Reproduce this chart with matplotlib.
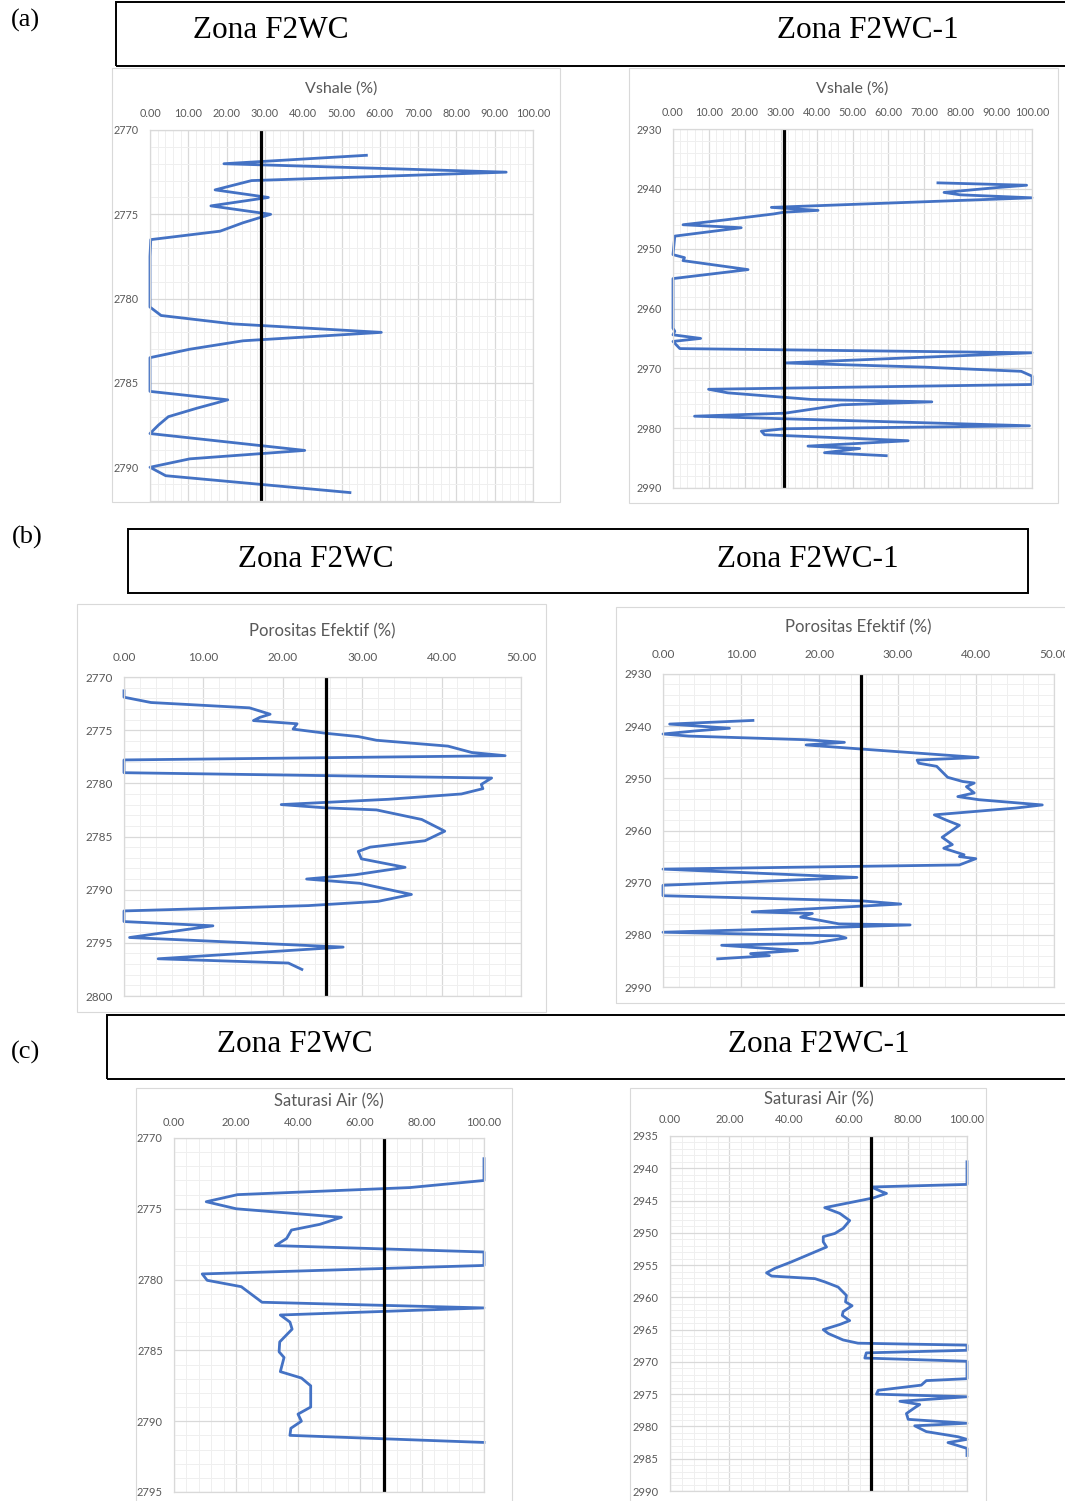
import matplotlib
matplotlib.use("Agg")
import matplotlib.pyplot as plt
from matplotlib.patches import Rectangle
from matplotlib.ticker import MultipleLocator, FormatStrFormatter

W, H = 1065, 1501

# --- Vshale, zona F2WC ---
vsh_f2wc_depth = [2771.5, 2772.0, 2772.5, 2773.0, 2773.55, 2774.0, 2774.5, 2775.0,
                  2775.5, 2776.0, 2776.5, 2777.5, 2778.5, 2779.5, 2780.5, 2781.0,
                  2781.5, 2782.0, 2782.5, 2783.0, 2783.5, 2784.5, 2785.5, 2786.0,
                  2786.5, 2787.0, 2787.5, 2788.0, 2789.0, 2789.5, 2790.0, 2790.5, 2791.5]
vsh_f2wc = [56.5, 19.3, 93.0, 26.5, 17.0, 30.9, 15.9, 31.5,
            24.3, 18.3, 0.2, 0.0, 0.0, 0.0, 0.0, 2.9,
            21.7, 60.4, 24.3, 10.4, 0.0, 0.0, 0.0, 20.3,
            12.2, 4.8, 2.2, 0.0, 40.4, 10.4, 0.0, 4.1, 52.2]

# --- Vshale, zona F2WC-1 ---
vsh_f2wc1_depth = [2939.0, 2939.4, 2939.8, 2940.6, 2941.0, 2941.5, 2943.1, 2943.6,
                   2943.9, 2944.2, 2945.2, 2946.0, 2946.5, 2947.9, 2951.0, 2951.5,
                   2952.0, 2953.5, 2955.0, 2963.3, 2963.8, 2964.4, 2965.0, 2965.5,
                   2966.7, 2967.4, 2969.1, 2969.8, 2970.5, 2971.3, 2972.7, 2973.5,
                   2974.1, 2975.2, 2975.6, 2976.1, 2977.5, 2978.0, 2979.6, 2980.1,
                   2980.5, 2981.1, 2981.7, 2982.1, 2983.0, 2983.4, 2984.1, 2984.6]
vsh_f2wc1 = [73.8, 98.5, 90.0, 75.5, 80.0, 100.0, 27.4, 40.4,
             31.0, 28.0, 14.4, 2.8, 19.0, 0.5, 0.0, 3.2,
             2.8, 20.9, 0.0, 0.0, 0.5, 0.0, 7.7, 0.0,
             1.9, 100.0, 31.1, 70.0, 97.0, 100.0, 100.0, 9.9,
             15.3, 38.5, 72.1, 46.9, 31.1, 6.0, 99.3, 31.0,
             24.6, 25.5, 50.0, 65.5, 37.6, 52.0, 42.2, 59.4]

# --- Porositas efektif, zona F2WC ---
phi_f2wc_depth = [2771.3, 2771.9, 2772.4, 2772.9, 2773.5, 2773.8, 2774.1, 2774.4,
                  2774.9, 2775.3, 2775.6, 2775.95, 2776.5, 2777.1, 2777.4, 2777.8,
                  2779.0, 2779.5, 2780.1, 2780.5, 2781.0, 2781.5, 2782.0, 2782.3,
                  2782.5, 2783.4, 2784.5, 2785.4, 2786.0, 2786.4, 2787.1, 2787.9,
                  2788.6, 2789.0, 2789.4, 2790.45, 2791.1, 2791.5, 2792.0, 2793.0,
                  2793.4, 2794.5, 2795.4, 2796.5, 2796.9, 2797.5]
phi_f2wc = [0.0, 0.0, 3.4, 15.8, 18.4, 17.1, 16.3, 21.8,
            21.3, 25.5, 29.5, 31.8, 40.8, 43.8, 48.0, 0.0,
            0.0, 46.3, 45.0, 45.2, 42.5, 33.3, 19.8, 25.3,
            31.8, 37.5, 40.4, 37.9, 31.0, 29.5, 29.9, 35.4,
            29.1, 23.0, 29.7, 36.2, 32.0, 23.2, 0.0, 0.0,
            11.2, 0.7, 27.6, 4.3, 20.7, 22.4]

# --- Porositas efektif, zona F2WC-1 ---
phi_f2wc1_depth = [2938.9, 2939.6, 2940.4, 2940.9, 2941.5, 2941.9, 2942.6, 2943.1,
                   2943.6, 2944.4, 2946.0, 2946.5, 2947.1, 2947.7, 2949.8, 2950.6,
                   2950.9, 2951.6, 2952.8, 2953.5, 2954.1, 2955.1, 2955.7, 2957.0,
                   2958.0, 2959.0, 2961.3, 2962.7, 2963.4, 2964.65, 2965.0, 2965.4,
                   2966.6, 2967.4, 2969.0, 2970.5, 2972.5, 2973.5, 2974.1, 2975.6,
                   2975.9, 2976.6, 2977.2, 2977.9, 2978.1, 2978.5, 2979.5, 2980.2,
                   2980.6, 2981.6, 2982.0, 2983.0, 2983.6, 2984.0, 2984.6]
phi_f2wc1 = [11.5, 0.85, 8.5, 4.2, 0.0, 3.3, 18.3, 23.2,
             18.3, 25.5, 40.3, 32.5, 32.7, 35.0, 36.4, 38.3,
             39.8, 38.8, 39.8, 37.7, 40.4, 48.5, 45.1, 34.7,
             36.2, 37.9, 35.7, 37.0, 35.9, 38.5, 37.9, 40.0,
             37.9, 0.0, 24.8, 0.0, 0.0, 25.5, 30.4, 11.4,
             19.1, 17.6, 20.0, 22.5, 31.6, 23.4, 0.0, 22.5,
             23.4, 19.1, 7.5, 17.2, 11.2, 13.6, 7.0]

# --- Saturasi air, zona F2WC ---
sw_f2wc_depth = [2771.46, 2773.0, 2773.5, 2774.0, 2774.5, 2775.0, 2775.6, 2776.1,
                 2776.5, 2777.1, 2777.6, 2778.05, 2779.0, 2779.6, 2780.05, 2780.5,
                 2781.6, 2782.0, 2782.5, 2783.0, 2783.5, 2784.4, 2785.1, 2785.5,
                 2786.5, 2786.95, 2787.5, 2789.0, 2789.5, 2790.0, 2790.5, 2791.0, 2791.5]
sw_f2wc = [100.0, 100.0, 76.1, 20.5, 10.4, 20.1, 54.0, 47.0,
           37.9, 36.3, 32.7, 100.0, 100.0, 9.1, 10.7, 21.7,
           28.4, 100.0, 34.3, 37.4, 38.1, 34.1, 33.9, 35.5,
           34.3, 41.1, 44.1, 44.1, 40.0, 41.1, 37.7, 37.4, 100.0]

# --- Saturasi air, zona F2WC-1 ---
sw_f2wc1_depth = [2939.0, 2942.5, 2942.9, 2943.6, 2943.9, 2944.6, 2946.1, 2947.0,
                  2948.1, 2949.3, 2950.1, 2950.6, 2951.4, 2952.2, 2954.5, 2955.5,
                  2956.2, 2956.7, 2957.1, 2957.6, 2958.4, 2959.7, 2960.7, 2961.3,
                  2962.2, 2962.8, 2963.6, 2964.2, 2965.0, 2965.6, 2966.6, 2967.1,
                  2967.4, 2968.2, 2968.6, 2969.4, 2969.9, 2972.6, 2972.9, 2973.6,
                  2974.4, 2975.0, 2975.4, 2976.1, 2976.6, 2977.1, 2978.0, 2978.9,
                  2979.5, 2979.9, 2980.8, 2981.6, 2982.0, 2982.5, 2983.4, 2984.5]
sw_f2wc1 = [100.0, 100.0, 67.8, 71.2, 72.9, 68.4, 52.1, 57.2,
            60.5, 58.3, 55.5, 51.6, 51.6, 52.7, 40.9, 35.3,
            32.5, 34.2, 48.8, 52.1, 56.6, 59.4, 59.1, 61.3,
            58.3, 58.0, 60.5, 57.2, 51.6, 53.3, 58.3, 63.3,
            100.0, 100.0, 66.1, 65.6, 100.0, 100.0, 86.3, 84.6,
            70.1, 69.5, 100.0, 77.4, 84.1, 82.4, 79.6, 80.2,
            100.0, 82.4, 86.3, 97.0, 100.0, 93.6, 100.0, 100.0]

# cutoff values (black vertical lines)
cutoff_vsh = [29.0, 31.0]
cutoff_phi = [25.4, 25.3]
cutoff_sw = [67.9, 67.8]

zone_names = ["Zona F2WC", "Zona F2WC-1"]
panel_tags = ["(a)", "(b)", "(c)"]

BLUE = "#4472C4"
GREY_TXT = "#595959"
TICK_FONT = ["Lato", "DejaVu Sans"]
SERIF = ["Liberation Serif", "DejaVu Serif"]

fig = plt.figure(figsize=(W / 100, H / 100), dpi=100)


def fx(x):
    return x / W


def fy(y):
    return 1 - y / H


def rect_px(x0, y0, x1, y1, **kw):
    r = Rectangle((fx(x0), fy(y1)), (x1 - x0) / W, (y1 - y0) / H,
                  transform=fig.transFigure, fill=False, **kw)
    fig.add_artist(r)


def log_track(box, depth, vals, cutoff, xlim, ylim, xmaj, xmin, ymaj, ymin,
              title, title_y, tick_fs, title_fs, pad_x=8, pad_y=8):
    x0, y0, x1, y1 = box
    ax = fig.add_axes([fx(x0), fy(y1), (x1 - x0) / W, (y1 - y0) / H])
    ax.set_xlim(*xlim)
    ax.set_ylim(ylim[1], ylim[0])
    ax.xaxis.set_major_locator(MultipleLocator(xmaj))
    ax.xaxis.set_minor_locator(MultipleLocator(xmin))
    ax.yaxis.set_major_locator(MultipleLocator(ymaj))
    ax.yaxis.set_minor_locator(MultipleLocator(ymin))
    ax.xaxis.set_major_formatter(FormatStrFormatter("%.2f"))
    ax.yaxis.set_major_formatter(FormatStrFormatter("%d"))
    ax.grid(which="major", color="#d9d9d9", lw=0.9)
    ax.grid(which="minor", color="#efefef", lw=0.7)
    ax.set_axisbelow(True)
    for s in ax.spines.values():
        s.set_color("#d9d9d9")
        s.set_linewidth(0.9)
    ax.tick_params(which="both", length=0, labeltop=True, labelbottom=False,
                   colors=GREY_TXT, labelsize=tick_fs)
    ax.tick_params(axis="x", pad=pad_x)
    ax.tick_params(axis="y", pad=pad_y)
    for lab in ax.get_xticklabels() + ax.get_yticklabels():
        lab.set_family(TICK_FONT)
    ax.plot(vals, depth, color=BLUE, lw=2.0, solid_joinstyle="round", clip_on=False)
    ax.plot([cutoff, cutoff], [ylim[0], ylim[1]], color="black", lw=2.3)
    fig.text(fx((x0 + x1) / 2), fy(title_y), title, ha="center", va="center",
             fontsize=title_fs, color=GREY_TXT, family=TICK_FONT)
    return ax


# chart frames
rect_px(112, 68, 560, 502, edgecolor="#d9d9d9", lw=0.8)
rect_px(629, 68, 1058, 503, edgecolor="#d9d9d9", lw=0.8)
rect_px(77, 604, 546, 1012, edgecolor="#d9d9d9", lw=0.8)
rect_px(616, 607, 1070, 1003, edgecolor="#d9d9d9", lw=0.8)
rect_px(136, 1088, 512, 1505, edgecolor="#d9d9d9", lw=0.8)
rect_px(630, 1088, 986, 1505, edgecolor="#d9d9d9", lw=0.8)

# (a) Vshale
log_track((150, 130, 533, 501), vsh_f2wc_depth, vsh_f2wc, cutoff_vsh[0],
          (0, 100), (2770, 2792), 10, 2, 5, 1, "Vshale (%)", 89, 7.8, 11.5)
log_track((673, 129, 1032, 488), vsh_f2wc1_depth, vsh_f2wc1, cutoff_vsh[1],
          (0, 100), (2930, 2990), 10, 2, 10, 2, "Vshale (%)", 89, 7.8, 11.5)

# (b) Porositas efektif
log_track((124, 677, 521, 996), phi_f2wc_depth, phi_f2wc, cutoff_phi[0],
          (0, 50), (2770, 2800), 10, 2, 5, 1, "Porositas Efektif (%)", 631, 8.5, 12,
          pad_x=10)
log_track((663, 674, 1054, 987), phi_f2wc1_depth, phi_f2wc1, cutoff_phi[1],
          (0, 50), (2930, 2990), 10, 2, 10, 2, "Porositas Efektif (%)", 627, 8.5, 12,
          pad_x=10)

# (c) Saturasi air
log_track((174, 1138, 484, 1492), sw_f2wc_depth, sw_f2wc, cutoff_sw[0],
          (0, 100), (2770, 2795), 20, 4, 5, 1, "Saturasi Air (%)", 1101, 8, 12,
          pad_x=7)
log_track((670, 1136, 967, 1491), sw_f2wc1_depth, sw_f2wc1, cutoff_sw[1],
          (0, 100), (2935, 2990), 20, 4, 5, 1, "Saturasi Air (%)", 1099, 8, 12)

# zone header boxes and panel tags
headers = [
    ((116, 2, 1080, 66), (271, 868), 31, (25, 20)),
    ((128, 529, 1028, 593), (316, 808), 559, (27, 537)),
    ((107, 1015, 1080, 1079), (295, 819), 1045, (26, 1052)),
]
for (bx, (t1, t2), ty, (lx, ly)), tag in zip(headers, panel_tags):
    rect_px(*bx, edgecolor="black", lw=1.4)
    for tx, name in zip((t1, t2), zone_names):
        fig.text(fx(tx), fy(ty), name, ha="center", va="center",
                 fontsize=22.5, family=SERIF)
    fig.text(fx(lx), fy(ly), tag, ha="center", va="center", fontsize=19, family=SERIF)

fig.savefig("out.png", dpi=100)
